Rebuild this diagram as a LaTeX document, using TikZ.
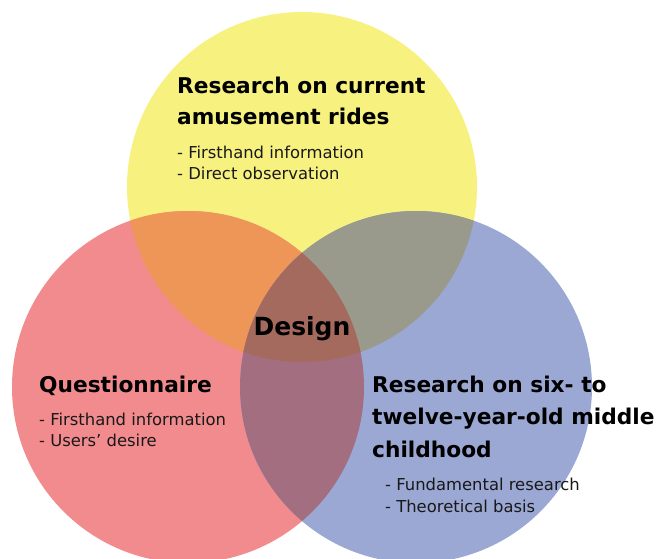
\documentclass[tikz,border=0pt]{standalone}
\usepackage{fontspec}
\setmainfont{DejaVu Sans}
\begin{document}
\definecolor{cYel}{RGB}{247,241,128}
\definecolor{cRed}{RGB}{242,139,142}
\definecolor{cBlu}{RGB}{155,168,212}
\definecolor{cYR}{RGB}{238,150,88}
\definecolor{cYB}{RGB}{154,154,140}
\definecolor{cRB}{RGB}{163,110,128}
\definecolor{cAll}{RGB}{165,106,94}
\begin{tikzpicture}[x=1pt,y=-1pt,
  title/.style={anchor=base west,inner sep=0pt,font=\fontsize{21.7}{31}\selectfont\bfseries,align=left},
  body/.style={anchor=base west,inner sep=0pt,font=\fontsize{16.4}{21}\selectfont,text=black!90},
  centre/.style={anchor=base,inner sep=0pt,font=\fontsize{25}{30}\selectfont\bfseries}]
\useasboundingbox (0,0) rectangle (657,559);
\def\ycirc{(302,187) circle[radius=175]}
\def\rcirc{(188,387) circle[radius=176]}
\def\bcirc{(416,387) circle[radius=176]}
% three sets
\fill[cYel] \ycirc;
\fill[cRed] \rcirc;
\fill[cBlu] \bcirc;
% pairwise overlaps
\begin{scope}\clip \ycirc; \fill[cYR] \rcirc; \end{scope}
\begin{scope}\clip \ycirc; \fill[cYB] \bcirc; \end{scope}
\begin{scope}\clip \rcirc; \fill[cRB] \bcirc; \end{scope}
% common core
\begin{scope}\clip \ycirc; \clip \rcirc; \fill[cAll] \bcirc; \end{scope}

% top set
\node[title] (t1a) at (177,94) {Research on current};
\node[title] (t1b) at (177,125) {amusement rides};
\node[body] (b1a) at (177,159) {- Firsthand information};
\node[body] (b1b) at (177,180) {- Direct observation};

% left set
\node[title] (t2) at (39,392) {Questionnaire};
\node[body] (b2a) at (39,425) {- Firsthand information};
\node[body] (b2b) at (39,446) {- Users’ desire};

% right set
\node[title] (t3a) at (372,392) {Research on six- to};
\node[title] (t3b) at (372,424) {twelve-year-old middle};
\node[title] (t3c) at (372,457) {childhood};
\node[body] (b3a) at (385,490) {- Fundamental research};
\node[body] (b3b) at (385,512) {- Theoretical basis};

% centre
\node[centre] (design) at (302,336) {Design};
\end{tikzpicture}
\end{document}
